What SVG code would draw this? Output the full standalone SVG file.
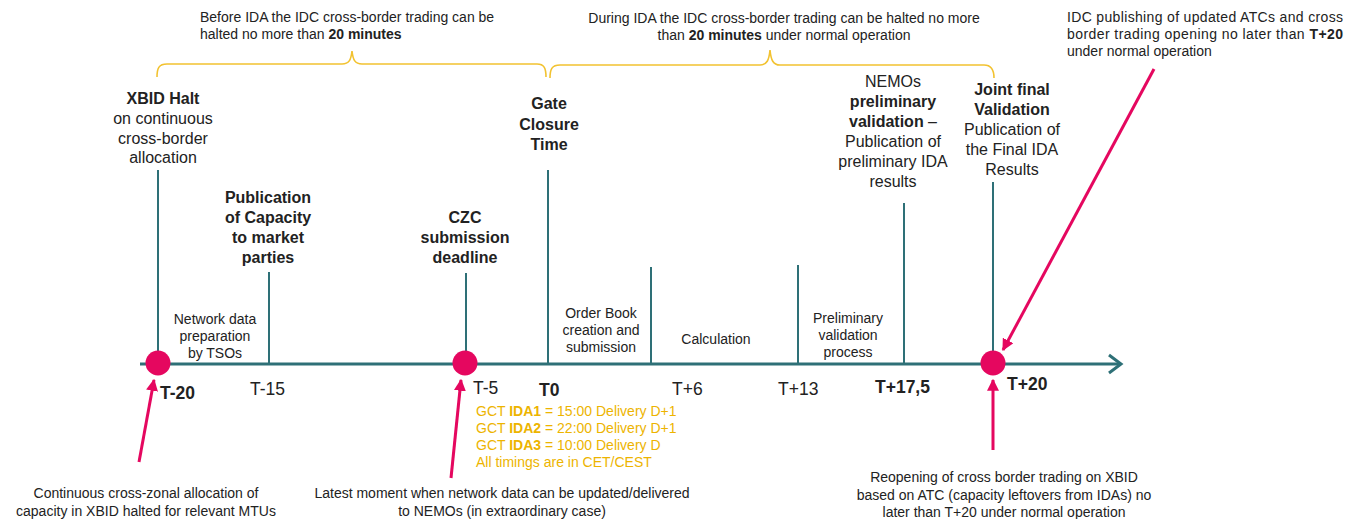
<svg xmlns="http://www.w3.org/2000/svg" width="1357" height="519" viewBox="0 0 1357 519">
<defs>
<style>
text{font-family:"Liberation Sans",Arial,sans-serif;fill:#222}
.h{font-size:16px;text-anchor:middle}
.b{font-weight:bold}
.s{font-size:14px;text-anchor:middle}
.t{font-size:17.5px}
.top{font-size:14px}
.gold{font-size:14px;fill:#EDB400}
.tick{stroke:#2E7077;stroke-width:2;fill:none}
.brace{stroke:#F2C230;stroke-width:1.6;fill:none}
.pk{stroke:#E5075F;stroke-width:3;fill:none}
.dot{fill:#E5075F}
</style>
<marker id="pa" viewBox="0 0 10 10" refX="9" refY="5" markerWidth="4" markerHeight="4" orient="auto" markerUnits="strokeWidth">
<path d="M0,0 L10,5 L0,10 z" fill="#E5075F"/>
</marker>
</defs>
<rect width="1357" height="519" fill="#fff"/>

<g id="connectors">
<path d="M140,364 L1120,364" stroke="#2E7077" stroke-width="3" fill="none"/>
<path d="M1109,355 L1121,364 L1109,373" stroke="#2E7077" stroke-width="3" fill="none"/>
<path class="tick" d="M158,170 V364"/>
<path class="tick" d="M269,272 V364"/>
<path class="tick" d="M466,273 V364"/>
<path class="tick" d="M548,170 V364"/>
<path class="tick" d="M651,267 V364"/>
<path class="tick" d="M798,265 V364"/>
<path class="tick" d="M904,203 V364"/>
<path class="tick" d="M993,182 V364" stroke-width="2.5"/>
<path class="brace" d="M157,77 C157,68 159,64 167,64 L342,64 C349,64 351,60 352,51 C353,60 355,64 362,64 L537,64 C544,64 546,68 546,77"/>
<path class="brace" d="M550,78 C550,69 552,65 560,65 L760,65 C767,65 769,60 770,50 C771,60 773,65 780,65 L984,65 C991,65 994,69 994,78"/>
<path class="pk" d="M139,462 L154,380" marker-end="url(#pa)"/>
<path class="pk" d="M451,478 L461,380" marker-end="url(#pa)"/>
<path class="pk" d="M993,450 L993,380" marker-end="url(#pa)"/>
<path class="pk" d="M1154,69 L1003,350" marker-end="url(#pa)"/>
</g>

<g id="dots">
<circle class="dot" cx="158" cy="363" r="12.5"/>
<circle class="dot" cx="465" cy="363" r="12.5"/>
<circle class="dot" cx="993" cy="363" r="12.5"/>
</g>

<g id="note-before">
<text class="top" x="200" y="22">Before IDA the IDC cross-border trading can be</text>
<text class="top" x="200" y="39">halted no more than <tspan class="b">20 minutes</tspan></text>
</g>
<g id="note-during">
<text class="top" x="784" y="23" text-anchor="middle">During IDA the IDC cross-border trading can be halted no more</text>
<text class="top" x="784" y="40" text-anchor="middle">than <tspan class="b">20 minutes</tspan> under normal operation</text>
</g>
<g id="note-idc">
<text class="top" x="1067" y="22" textLength="276" lengthAdjust="spacing">IDC publishing of updated ATCs and cross</text>
<text class="top" x="1067" y="39" textLength="276" lengthAdjust="spacing">border trading opening no later than <tspan class="b">T+20</tspan></text>
<text class="top" x="1067" y="56">under normal operation</text>
</g>

<g id="xbid-halt">
<text class="h" x="163" y="104"><tspan class="b">XBID Halt</tspan><tspan x="163" dy="20">on continuous</tspan><tspan x="163" dy="20">cross-border</tspan><tspan x="163" dy="19">allocation</tspan></text>
</g>
<g id="publication">
<text class="h b" x="268" y="203">Publication<tspan x="268" dy="20">of Capacity</tspan><tspan x="268" dy="20">to market</tspan><tspan x="268" dy="20">parties</tspan></text>
</g>
<g id="czc">
<text class="h b" x="465" y="223">CZC<tspan x="465" dy="20">submission</tspan><tspan x="465" dy="20">deadline</tspan></text>
</g>
<g id="gct">
<text class="h b" x="549" y="109">Gate<tspan x="549" dy="21">Closure</tspan><tspan x="549" dy="20">Time</tspan></text>
</g>
<g id="nemos">
<text class="h" x="893" y="87">NEMOs<tspan x="893" dy="20" class="b">preliminary</tspan><tspan x="893" dy="20"><tspan class="b">validation</tspan> –</tspan><tspan x="893" dy="20">Publication of</tspan><tspan x="893" dy="20">preliminary IDA</tspan><tspan x="893" dy="20">results</tspan></text>
</g>
<g id="joint">
<text class="h" x="1012" y="95"><tspan class="b">Joint final</tspan><tspan x="1012" dy="20" class="b">Validation</tspan><tspan x="1012" dy="20">Publication of</tspan><tspan x="1012" dy="20">the Final IDA</tspan><tspan x="1012" dy="20">Results</tspan></text>
</g>

<g id="phases">
<text class="s" x="215" y="324">Network data<tspan x="215" dy="17">preparation</tspan><tspan x="215" dy="17">by TSOs</tspan></text>
<text class="s" x="601" y="318">Order Book<tspan x="601" dy="17">creation and</tspan><tspan x="601" dy="17">submission</tspan></text>
<text class="s" x="716" y="344">Calculation</text>
<text class="s" x="848" y="323">Preliminary<tspan x="848" dy="17">validation</tspan><tspan x="848" dy="17">process</tspan></text>
</g>

<g id="ticks">
<text class="t b" x="160" y="399">T-20</text>
<text class="t" x="250" y="395">T-15</text>
<text class="t" x="473" y="394">T-5</text>
<text class="t b" x="539" y="396">T0</text>
<text class="t" x="672" y="395">T+6</text>
<text class="t" x="778" y="395">T+13</text>
<text class="t b" x="875" y="393">T+17,5</text>
<text class="t b" x="1007" y="390">T+20</text>
</g>

<g id="gct-times">
<text class="gold" x="476" y="416">GCT <tspan class="b">IDA1</tspan> = 15:00 Delivery D+1</text>
<text class="gold" x="476" y="433">GCT <tspan class="b">IDA2</tspan> = 22:00 Delivery D+1</text>
<text class="gold" x="476" y="450">GCT <tspan class="b">IDA3</tspan> = 10:00 Delivery D</text>
<text class="gold" x="476" y="467">All timings are in CET/CEST</text>
</g>

<g id="note-continuous">
<text class="s" x="146" y="498">Continuous cross-zonal allocation of<tspan x="146" dy="18">capacity in XBID halted for relevant MTUs</tspan></text>
</g>
<g id="note-latest">
<text class="s" x="502" y="498">Latest moment when network data can be updated/delivered<tspan x="502" dy="18">to NEMOs (in extraordinary case)</tspan></text>
</g>
<g id="note-reopening">
<text class="s" x="1004" y="482">Reopening of cross border trading on XBID<tspan x="1004" dy="18">based on ATC (capacity leftovers from IDAs) no</tspan><tspan x="1004" dy="17">later than T+20 under normal operation</tspan></text>
</g>
</svg>
